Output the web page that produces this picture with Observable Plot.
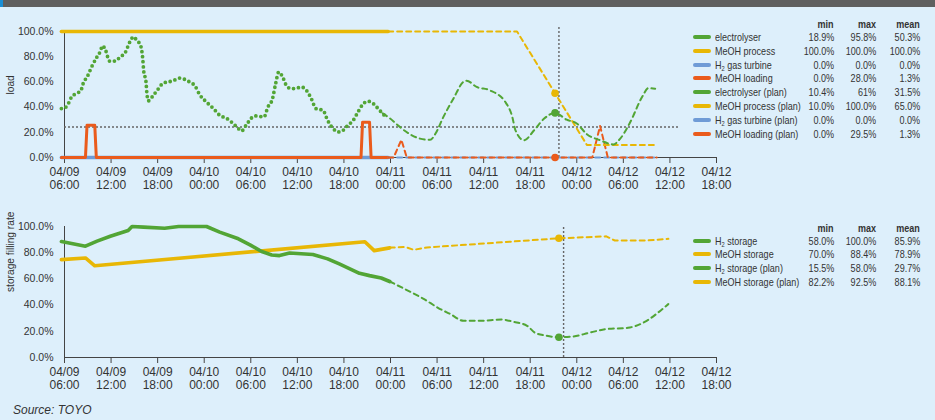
<!DOCTYPE html>
<html><head><meta charset="utf-8">
<script src="https://cdn.jsdelivr.net/npm/d3@7"></script>
<script src="https://cdn.jsdelivr.net/npm/@observablehq/plot@0.6"></script>
<style>
body{margin:0;background:#ddeffb;}
#wrap{position:relative;width:935px;height:420px;background:#ddeffb;font-family:"Liberation Sans",Arial,sans-serif;color:#333;overflow:hidden}
#bar{position:absolute;left:0;top:0;width:935px;height:7px;background:#5f5f5f;border-left:3px solid #1a8fd6;box-sizing:border-box}
.chart{position:absolute;left:0}
.lg{position:absolute;font-family:"Liberation Sans",Arial,sans-serif;font-size:11px;color:#333;height:14px;line-height:14px;white-space:nowrap}
.lg span{display:inline-block;transform:scaleX(0.82);transform-origin:left center}
.lg.r span{transform-origin:right center}
.hd{font-weight:bold}
.sw{position:absolute;width:18px;height:4px;border-radius:2px}
sub{font-size:7px;vertical-align:-2px;line-height:0}
#src{position:absolute;left:13px;top:403px;font-style:italic;font-size:12px;color:#333}
</style></head>
<body><div id="wrap"><div id="bar"></div><div id="src">Source: TOYO</div></div>
<script>
// ---------- data (hours after 04/09 06:00, values in %) ----------
const xTickHours = [0,6,12,18,24,30,36,42,48,54,60,66,72,78,84];
const yTicks = [0,20,40,60,80,100];

const elecHours = [-0.4,0.1,0.6,0.9,1.6,2.1,2.4,3.0,3.5,4.2,4.6,4.9,5.3,5.8,6.5,7.2,7.8,8.4,8.9,9.3,9.8,10.1,10.2,10.5,10.6,10.8,11.4,12.1,12.7,13.4,14.0,14.8,15.5,16.2,16.8,17.4,18.3,19.2,20.0,20.9,21.6,22.4,22.8,23.4,24.1,24.6,25.7,26.2,26.8,27.2,27.6,28.1,28.6,29.2,29.9,30.5,31.2,31.8,32.4,33.3,33.9,34.6,35.3,35.9,36.5,37.2,37.8,38.5,39.1,39.8,40.4,41.0,41.5];
const elecValues = [38.8,39.6,44,48,51,53,58.6,65,72,80,84,88.7,85,76.5,76.5,80,83,91.5,95.8,93,89,77,69,60,52,45,49,54.6,59,60,61,63,62,59.6,57,50,44,38.8,33.5,31,27.7,23,21,25.6,31.4,33,32.2,40,46.7,58.6,67.8,64,57,54.6,55,56,53,46.7,38.8,37.5,29.5,23,20.3,21.6,25.6,29.5,36,42.7,44.6,42.7,38.8,34.8,31.7];
const elecPlanHours = [41.0,41.95,43.2,44.5,45.8,47.1,47.8,48.8,50.1,51.4,51.8,53.1,54.8,56.8,57.7,58.1,59.2,60.5,61.8,63.2,64.7,66.0,67.3,69.0,70.7,71.6,72.8,74.5,75.2,76.1];
const elecPlanValues = [35,30.9,24.3,18.5,15,14,19,32,46.7,60,61,56,53.3,44,32,21.6,13.7,21.6,30.9,35.4,30,27,18.5,13.7,10.4,15,27,49,55,54.6];

const meohHours = [-0.4,41.7];
const meohValues = [100,100];
const meohPlanHours = [41.7,58.3,67.3,76.3];
const meohPlanValues = [100,100,10,10];

const turbineHours = [-0.4,41.7];
const turbineValues = [0,0];
const turbinePlanHours = [41.7,76.3];
const turbinePlanValues = [0,0];

const loadingHours = [-0.4,2.7,2.9,3.9,4.1,38.2,38.4,39.3,39.5,41.7];
const loadingValues = [0,0,25.5,25.5,0,0,28,28,0,0];
const loadingPlanHours = [41.7,42.4,43.4,44.1,68.0,69.0,70.0,76.3];
const loadingPlanValues = [0,0,14,0,0,25,0,0];

const loadRefLevel = 24.2;
const loadNowHour = 63.7;
const loadMarkerHour = 63.2;
const loadMarkerValues = [35.4, 51, 0];

const h2Hours = [-0.4,0.1,2.7,4.2,5.9,8.2,8.7,10.2,12.9,14.7,18.3,20,22.4,23.9,25.4,26.7,27.7,29,32,33.9,35.4,38,39.3,40.8,41.9];
const h2Values = [88.5,88,85,88.8,92.6,97,100,99.5,98.7,100,100,95.7,90.6,86,80.9,78.3,77.8,79.8,78.6,75.3,71.4,64.3,62.5,60.7,58];
const h2PlanHours = [41.9,44.5,46.2,48.4,49.7,51.4,53.5,56.3,57.8,59.6,60.6,62.1,63.7,65.5,67.7,69.8,72.6,75,76.5,77.8];
const h2PlanValues = [58,50.3,45,37,33.2,28,28,29,27.3,24.2,19,16.6,15.5,16,19,21.7,22.7,28,34.4,40.8];
const msHours = [-0.4,2.7,3.9,38.7,39.9,41.9];
const msValues = [74.7,76,70,88.4,81.6,83.7];
const msPlanHours = [41.9,43.9,45,46.7,63.7,69.8,70.9,75,77.8];
const msPlanValues = [83.9,84.4,82.2,84,91,92.5,89.3,89.3,90.6];
const storNowHour = 64.3;
const storMarkerHour = 63.7;
const storMarkerValues = [15.5, 91];

const legendTopNames = ["electrolyser","MeOH process","H<sub>2</sub> gas turbine","MeOH loading","electrolyser (plan)","MeOH process (plan)","H<sub>2</sub> gas turbine (plan)","MeOH loading (plan)"];
const legendTopMin = ["18.9%","100.0%","0.0%","0.0%","10.4%","10.0%","0.0%","0.0%"];
const legendTopMax = ["95.8%","100.0%","0.0%","28.0%","61%","100.0%","0.0%","29.5%"];
const legendTopMean = ["50.3%","100.0%","0.0%","1.3%","31.5%","65.0%","0.0%","1.3%"];
const legendBotNames = ["H<sub>2</sub> storage","MeOH storage","H<sub>2</sub> storage (plan)","MeOH storage (plan)"];
const legendBotMin = ["58.0%","70.0%","15.5%","82.2%"];
const legendBotMax = ["100.0%","88.4%","58.0%","92.5%"];
const legendBotMean = ["85.9%","78.9%","29.7%","88.1%"];

// ---------- styling ----------
const GREEN = "#52a535", YELLOW = "#e8b705", BLUE = "#6f9bd6", ORANGE = "#ea5b1c";
const legendTopColors = [GREEN,YELLOW,BLUE,ORANGE,GREEN,YELLOW,BLUE,ORANGE];
const legendBotColors = [GREEN,YELLOW,GREEN,YELLOW];

const t0 = Date.UTC(2024,3,9,6);
const toDate = h => new Date(t0 + h*3600e3);
const series = (hs, vs) => hs.map((h,i)=>({date: toDate(h), value: vs[i]}));
const fmtX = d3.utcFormat("%m/%d\n%H:%M");
const xTicks = xTickHours.map(toDate);

function axes(label) {
  return [
    Plot.ruleY([0], {x1: toDate(0), x2: toDate(84), stroke: "#444", strokeWidth: 1}),
    Plot.ruleX([toDate(0)], {y1: 0, y2: 100, stroke: "#444", strokeWidth: 1}),
    Plot.axisX({ticks: xTicks, tickFormat: fmtX, tickSize: 6, tickPadding: 3, fontSize: 12, lineHeight: 1.08, stroke: "#444", label: null}),
    Plot.axisY({ticks: yTicks, tickFormat: d => d.toFixed(1) + "%", tickSize: 0, tickPadding: 11, fontSize: 10.5, label: null}),
    Plot.text([label], {frameAnchor: "left", rotate: -90, dx: -54, fontSize: 10.2, fill: "#333"})
  ];
}
const plan = {strokeWidth: 2, strokeDasharray: "5 4"};
const thick = {strokeWidth: 3.6, strokeLinecap: "round", strokeLinejoin: "round"};

const topChart = Plot.plot({
  width: 935, height: 200,
  marginLeft: 64, marginRight: 219, marginTop: 31, marginBottom: 43,
  style: {background: "transparent", fontFamily: "Liberation Sans, Arial, sans-serif", color: "#333", overflow: "visible"},
  x: {type: "utc", domain: [toDate(0), toDate(84)]},
  y: {domain: [0,100]},
  marks: [
    ...axes("load"),
    Plot.ruleY([loadRefLevel], {x1: toDate(0), x2: toDate(79.3), stroke: "#666", strokeWidth: 1.4, strokeDasharray: "2 2"}),
    Plot.ruleX([toDate(loadNowHour)], {y1: 0, y2: 103.4, stroke: "#666", strokeWidth: 1.4, strokeDasharray: "2 2"}),
    Plot.line(series(turbineHours, turbineValues), {x: "date", y: "value", stroke: BLUE, ...thick}),
    Plot.line(series(loadingHours, loadingValues), {x: "date", y: "value", stroke: ORANGE, ...thick, strokeWidth: 3}),
    Plot.line(series(meohHours, meohValues), {x: "date", y: "value", stroke: YELLOW, ...thick}),
    Plot.line(series(elecHours, elecValues), {x: "date", y: "value", stroke: GREEN, strokeWidth: 3.8, strokeLinecap: "round", strokeDasharray: "0 5", curve: "monotone-x"}),
    Plot.line(series(turbinePlanHours, turbinePlanValues), {x: "date", y: "value", stroke: BLUE, ...plan}),
    Plot.line(series(loadingPlanHours, loadingPlanValues), {x: "date", y: "value", stroke: ORANGE, ...plan}),
    Plot.line(series(meohPlanHours, meohPlanValues), {x: "date", y: "value", stroke: YELLOW, ...plan}),
    Plot.line(series(elecPlanHours, elecPlanValues), {x: "date", y: "value", stroke: GREEN, ...plan, curve: "monotone-x"}),
    Plot.dot(loadMarkerValues, {x: () => toDate(loadMarkerHour), y: d => d, fill: [GREEN, YELLOW, ORANGE], r: 3.8})
  ]
});
topChart.classList.add("chart"); topChart.style.top = "0px";

const botChart = Plot.plot({
  width: 935, height: 200,
  marginLeft: 64, marginRight: 219, marginTop: 26, marginBottom: 43,
  style: {background: "transparent", fontFamily: "Liberation Sans, Arial, sans-serif", color: "#333", overflow: "visible"},
  x: {type: "utc", domain: [toDate(0), toDate(84)]},
  y: {domain: [0,100]},
  marks: [
    ...axes("storage filling rate"),
    Plot.ruleX([toDate(storNowHour)], {y1: 0, y2: 100.5, stroke: "#666", strokeWidth: 1.4, strokeDasharray: "2 2"}),
    Plot.line(series(msHours, msValues), {x: "date", y: "value", stroke: YELLOW, ...thick}),
    Plot.line(series(h2Hours, h2Values), {x: "date", y: "value", stroke: GREEN, ...thick}),
    Plot.line(series(msPlanHours, msPlanValues), {x: "date", y: "value", stroke: YELLOW, ...plan}),
    Plot.line(series(h2PlanHours, h2PlanValues), {x: "date", y: "value", stroke: GREEN, ...plan, curve: "monotone-x"}),
    Plot.dot(storMarkerValues, {x: () => toDate(storMarkerHour), y: d => d, fill: [GREEN, YELLOW], r: 3.8})
  ]
});
botChart.classList.add("chart"); botChart.style.top = "200px";

const wrap = document.getElementById("wrap");
wrap.appendChild(topChart); wrap.appendChild(botChart);

function legend(headerY, rowY0, rowStep, names, colors, mins, maxs, means) {
  const add = (html, cls, left, cy, right) => {
    const d = document.createElement("div");
    d.className = "lg " + cls + (right != null ? " r" : "");
    d.innerHTML = "<span>" + html + "</span>";
    d.style.top = (cy - 7) + "px";
    if (right != null) { d.style.right = (935 - right) + "px"; d.style.textAlign = "right"; }
    else d.style.left = left + "px";
    wrap.appendChild(d);
  };
  add("min", "hd", null, headerY, 834);
  add("max", "hd", null, headerY, 876);
  add("mean", "hd", null, headerY, 920);
  names.forEach((n, i) => {
    const cy = rowY0 + i * rowStep;
    const s = document.createElement("div");
    s.className = "sw"; s.style.background = colors[i];
    s.style.left = "693px"; s.style.top = (cy - 2) + "px";
    wrap.appendChild(s);
    add(n, "", 715, cy, null);
    add(mins[i], "", null, cy, 834);
    add(maxs[i], "", null, cy, 876);
    add(means[i], "", null, cy, 920);
  });
}
legend(24, 36.7, 13.9, legendTopNames, legendTopColors, legendTopMin, legendTopMax, legendTopMean);
legend(227.7, 240.7, 13.65, legendBotNames, legendBotColors, legendBotMin, legendBotMax, legendBotMean);
</script></body></html>
